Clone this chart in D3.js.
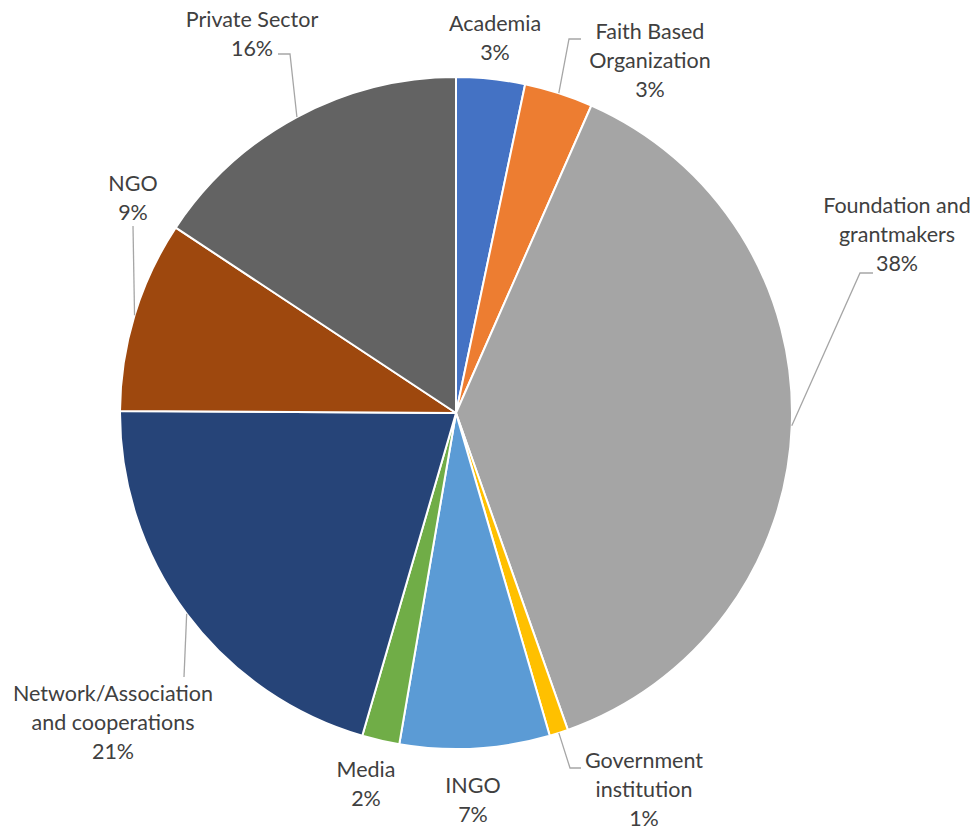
<!DOCTYPE html>
<html>
<head>
<meta charset="utf-8">
<script src="https://cdn.jsdelivr.net/npm/d3@7"></script>
<style>
  html, body { margin: 0; padding: 0; background: #ffffff; }
  svg { display: block; }
  text { font-family: Lato, "Open Sans", sans-serif; fill: #404040; }
</style>
</head>
<body>
<svg id="chart" width="980" height="830"></svg>
<script>
// Share of respondents by organisation type (drawn clockwise from 12 o'clock)
const categories = [
  "Academia",
  "Faith Based Organization",
  "Foundation and grantmakers",
  "Government institution",
  "INGO",
  "Media",
  "Network/Association and cooperations",
  "NGO",
  "Private Sector"
];
const shares = [3.3, 3.3, 38.0, 0.9, 7.2, 1.8, 20.6, 9.2, 15.7];

// Label text is broken into lines as it is printed next to each slice
const labelLines = [
  ["Academia"],
  ["Faith Based", "Organization"],
  ["Foundation and", "grantmakers"],
  ["Government", "institution"],
  ["INGO"],
  ["Media"],
  ["Network/Association", "and cooperations"],
  ["NGO"],
  ["Private Sector"]
];

const palette = ["#4472C4", "#ED7D31", "#A5A5A5", "#FFC000", "#5B9BD5",
                 "#70AD47", "#264478", "#9E480E", "#636363"];

// Label placement: centre x and first baseline y, plus leader-line bend points
const labelLayout = [
  { x: 495, y: 31,  leader: null },
  { x: 650, y: 39,  leader: [[569, 39], [581, 39]] },
  { x: 897, y: 213, leader: [[860, 273], [873, 273]] },
  { x: 644, y: 768, leader: [[570, 768], [581, 768]] },
  { x: 473, y: 793, leader: null },
  { x: 366, y: 777, leader: null },
  { x: 113, y: 701, leader: [[184, 677]] },
  { x: 133, y: 191, leader: [[133, 226]] },
  { x: 252, y: 27,  leader: [[290, 54], [278, 54]] }
];

const cx = 456, cy = 413, radius = 336;
const lineStep = 29;

const data = categories.map((c, i) => ({
  name: c, value: shares[i], color: palette[i],
  lines: labelLines[i], layout: labelLayout[i]
}));
const total = d3.sum(shares);

const pie = d3.pie().value(d => d.value).sort(null);
const arc = d3.arc().innerRadius(0).outerRadius(radius);
const edgeArc = d3.arc().innerRadius(radius).outerRadius(radius);

const svg = d3.select("#chart");
const g = svg.append("g").attr("transform", `translate(${cx},${cy})`);

const arcs = pie(data);

g.selectAll("path.slice")
  .data(arcs)
  .join("path")
  .attr("class", "slice")
  .attr("d", arc)
  .attr("fill", d => d.data.color)
  .attr("stroke", "#ffffff")
  .attr("stroke-width", 2)
  .attr("stroke-linejoin", "round");

// Leader lines from the slice edge to the label
const lineGen = d3.line();
svg.append("g")
  .selectAll("path.leader")
  .data(arcs.filter(d => d.data.layout.leader))
  .join("path")
  .attr("class", "leader")
  .attr("fill", "none")
  .attr("stroke", "#A6A6A6")
  .attr("stroke-width", 1.3)
  .attr("d", d => {
    const [ex, ey] = edgeArc.centroid(d);
    return lineGen([[cx + ex, cy + ey], ...d.data.layout.leader]);
  });

// Category name lines followed by the percentage
const labels = svg.append("g")
  .selectAll("text.label")
  .data(arcs)
  .join("text")
  .attr("class", "label")
  .attr("text-anchor", "middle")
  .attr("font-size", 21.5)
  .attr("x", d => d.data.layout.x)
  .attr("y", d => d.data.layout.y);

labels.each(function (d) {
  const t = d3.select(this);
  const pct = Math.round(d.data.value / total * 100) + "%";
  const rows = [...d.data.lines, pct];
  rows.forEach((row, i) => {
    t.append("tspan")
      .attr("x", d.data.layout.x)
      .attr("y", d.data.layout.y + i * lineStep)
      .text(row);
  });
});
</script>
</body>
</html>
